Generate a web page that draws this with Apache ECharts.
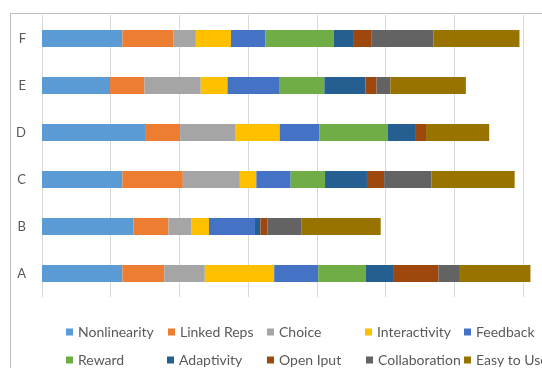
<!DOCTYPE html>
<html>
<head>
<meta charset="utf-8">
<script src="https://cdn.jsdelivr.net/npm/echarts@6/dist/echarts.min.js"></script>
<style>
html, body { margin: 0; padding: 0; background: #fff; }
#main { width: 542px; height: 368px; }
</style>
</head>
<body>
<div id="main"></div>
<script>
var categories = ['A', 'B', 'C', 'D', 'E', 'F'];
var seriesNames = ['Nonlinearity', 'Linked Reps', 'Choice', 'Interactivity', 'Feedback',
	'Reward', 'Adaptivity', 'Open Iput', 'Collaboration', 'Easy to Use'];
// one array per series, values for A..F
var nonlinearity = [11.7, 13.3, 11.7, 15.0, 9.9, 11.7];
var linkedReps = [6.1, 5.1, 8.8, 5.1, 5.0, 7.4];
var choice = [5.9, 3.3, 8.3, 8.1, 8.2, 3.3];
var interactivity = [10.1, 2.6, 2.4, 6.4, 3.9, 5.1];
var feedback = [6.4, 6.7, 5.0, 5.8, 7.5, 5.0];
var reward = [6.9, 0, 5.0, 9.9, 6.6, 10.0];
var adaptivity = [4.0, 0.8, 6.1, 4.0, 6.0, 2.9];
var openIput = [6.6, 1.0, 2.5, 1.6, 1.6, 2.6];
var collaboration = [3.0, 5.0, 6.9, 0, 2.0, 9.0];
var easyToUse = [10.4, 11.5, 12.1, 9.2, 11.0, 12.5];

var seriesData = [nonlinearity, linkedReps, choice, interactivity, feedback,
	reward, adaptivity, openIput, collaboration, easyToUse];
var colors = ['#5B9BD5', '#ED7D31', '#A5A5A5', '#FFC000', '#4472C4',
	'#70AD47', '#255E91', '#9E480E', '#636363', '#997300'];

// legend slots (Excel-style grid, 5 columns x 2 rows)
var legendLeft = [66, 168, 267, 365, 464, 66, 167, 267, 366, 464];
var legendTop = [325, 325, 325, 325, 325, 353, 353, 353, 353, 353];

var series = [];
var legends = [];
for (var i = 0; i < seriesNames.length; i++) {
	series.push({
		name: seriesNames[i],
		type: 'bar',
		stack: 'total',
		barWidth: 17,
		data: seriesData[i],
		itemStyle: { color: colors[i] }
	});
	legends.push({
		data: [seriesNames[i]],
		left: legendLeft[i],
		top: legendTop[i],
		padding: 0,
		icon: 'rect',
		itemWidth: 7,
		itemHeight: 7,
		selectedMode: false,
		textStyle: { fontFamily: 'Lato', fontSize: 14, color: '#595959', lineHeight: 14 }
	});
}

var chart = echarts.init(document.getElementById('main'));
chart.setOption({
	animation: false,
	backgroundColor: '#fff',
	color: colors,
	legend: legends,
	// plot area runs past the right edge, like the cropped original
	grid: { left: 42, top: 15, width: 549.6, height: 282, containLabel: false, outerBoundsMode: 'none' },
	xAxis: {
		type: 'value',
		min: 0,
		max: 80,
		interval: 10,
		axisLabel: { show: false },
		axisLine: { show: false },
		axisTick: { show: false },
		splitLine: { lineStyle: { color: '#d9d9d9', width: 1 } }
	},
	yAxis: {
		type: 'category',
		data: categories,
		axisLine: { show: false },
		axisTick: { show: false },
		axisLabel: { margin: 16, fontFamily: 'Lato', fontSize: 13, color: '#595959' }
	},
	graphic: [{
		type: 'rect',
		shape: { x: 10.5, y: 13.5, width: 700, height: 500 },
		style: { fill: null, stroke: '#bfbfbf', lineWidth: 1 },
		silent: true
	}],
	series: series
});
</script>
</body>
</html>
